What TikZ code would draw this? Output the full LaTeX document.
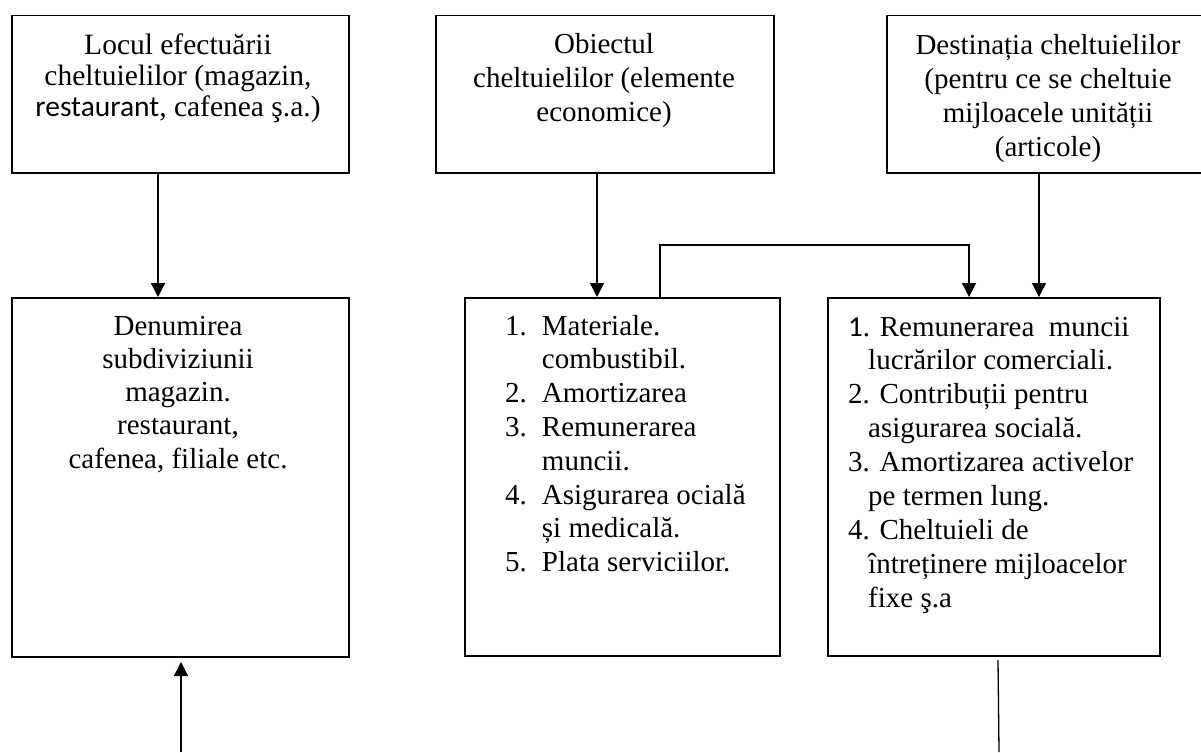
\documentclass[tikz,border=0pt]{standalone}
\usepackage{fontspec}
\setmainfont{Liberation Serif}
\newfontfamily\carl{Carlito}
\usetikzlibrary{arrows.meta}
\begin{document}
\begin{tikzpicture}[x=1pt,y=-1pt,
  box/.style={draw, line width=1.5pt, rectangle, inner sep=0pt, anchor=north west},
  txt/.style={inner sep=0pt, anchor=base},
  txtl/.style={inner sep=0pt, anchor=base west},
  arr/.style={line width=1.3pt, -{Triangle[length=14pt,width=14pt]}},
  ln/.style={line width=1.3pt}]
\useasboundingbox[fill=white] (0,0) rectangle (1201,752);
% boxes
\node[box, minimum width=337pt, minimum height=157pt] (A) at (11,15) {};
\node[box, minimum width=338pt, minimum height=157pt] (B) at (435,15) {};
\node[box, minimum width=325pt, minimum height=157pt] (C) at (886,15) {};
\node[box, minimum width=337pt, minimum height=359pt] (D) at (11,297) {};
\node[box, minimum width=315pt, minimum height=358pt] (E) at (464,297) {};
\node[box, minimum width=332pt, minimum height=358pt] (F) at (827,297) {};
% texts
\node[txt] (tA) at (178,55) {\fontsize{29.5}{31}\selectfont\begin{tabular}[t]{@{}c@{}}Locul efectuării\\cheltuielilor (magazin,\\{\carl restaurant}, cafenea ş.a.)\end{tabular}};
\node[txt] (tB) at (604,53) {\fontsize{29}{34}\selectfont\begin{tabular}[t]{@{}c@{}}Obiectul\\cheltuielilor (elemente\\economice)\end{tabular}};
\node[txt] (tC) at (1048,55) {\fontsize{29}{34}\selectfont\begin{tabular}[t]{@{}c@{}}Destinația cheltuielilor\\(pentru ce se cheltuie\\mijloacele unității\\(articole)\end{tabular}};
\node[txt] (tD) at (178,335) {\fontsize{29}{33.3}\selectfont\begin{tabular}[t]{@{}c@{}}Denumirea\\subdiviziunii\\magazin.\\restaurant,\\cafenea, filiale etc.\end{tabular}};
\node[txtl] (tE) at (505,335) {\fontsize{29}{33.8}\selectfont\begin{tabular}[t]{@{}l@{\hspace{15pt}}l@{}}1.&Materiale.\\&combustibil.\\2.&Amortizarea\\3.&Remunerarea\\&muncii.\\4.&Asigurarea ocială\\&și medicală.\\5.&Plata serviciilor.\end{tabular}};
\node[txtl] (tF) at (848,336) {\fontsize{29}{33.9}\selectfont\begin{tabular}[t]{@{}l@{}}{\carl 1}. Remunerarea\ \ muncii\\\hspace*{20pt}lucrărilor comerciali.\\2. Contribuții pentru\\\hspace*{20pt}asigurarea socială.\\3. Amortizarea activelor\\\hspace*{20pt}pe termen lung.\\4. Cheltuieli de\\\hspace*{20pt}întreținere mijloacelor\\\hspace*{20pt}fixe ş.a\end{tabular}};
% connectors
\draw[arr] (158,0 |- A.south) -- (158,0 |- D.north);
\draw[arr] (597,0 |- B.south) -- (597,0 |- E.north);
\draw[arr] (1039,0 |- C.south) -- (1039,0 |- F.north);
\coordinate (k1) at (660,245);
\draw[arr] (660,0 |- E.north) -- (k1) -| (969,0 |- F.north);
\coordinate (b1) at (181,752);
\coordinate (b1t) at (181,662);
\draw[arr] (b1) -- (b1t);
\coordinate (b2t) at (998,660);
\coordinate (b2) at (999,752);
\draw[ln] (b2t) -- (b2);
\end{tikzpicture}
\end{document}
